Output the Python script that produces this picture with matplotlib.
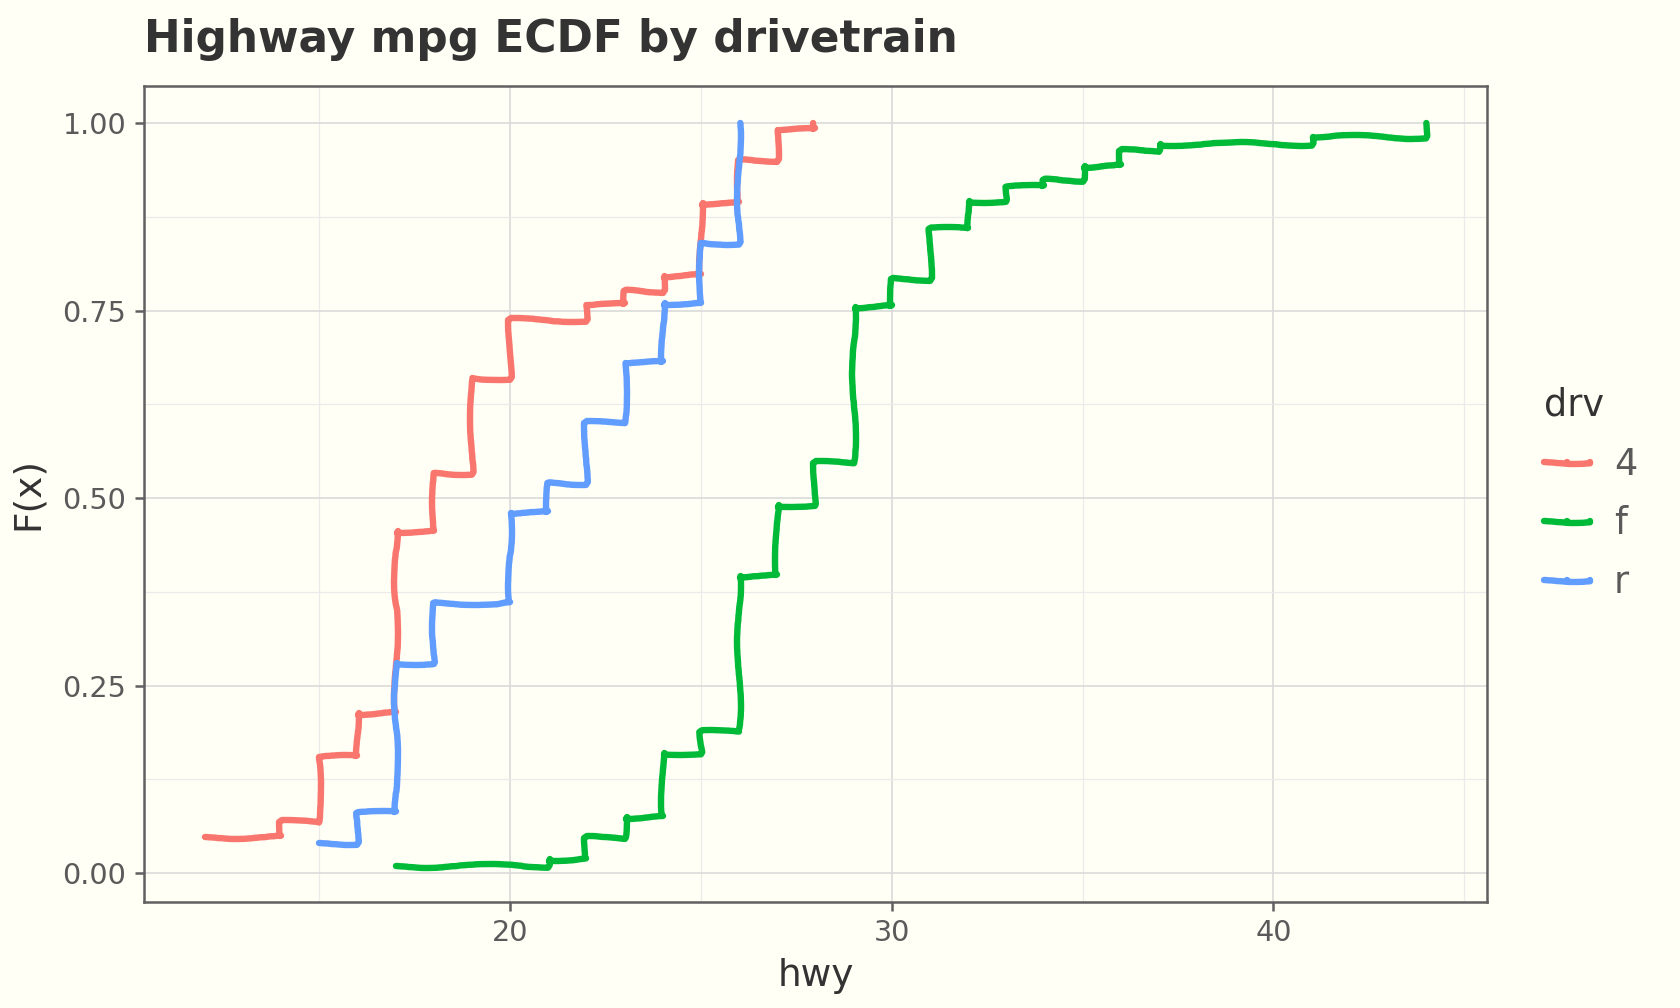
import matplotlib
matplotlib.use("Agg")
import matplotlib.pyplot as plt
from matplotlib.ticker import MultipleLocator

# ECDF steps (hwy value, cumulative count)
drv_labels = ["4", "f", "r"]
colors = ["#F8766D", "#00BA38", "#619CFF"]

hwy_4 = [12, 14, 15, 16, 17, 18, 19, 20, 22, 23, 24, 25, 26, 27, 28]
cum_4 = [5, 7, 16, 22, 47, 55, 68, 76, 78, 80, 82, 92, 98, 102, 103]

hwy_f = [17, 21, 22, 23, 24, 25, 26, 27, 28, 29, 30, 31, 32, 33, 34, 35, 36, 37, 41, 44]
cum_f = [1, 2, 5, 8, 17, 20, 42, 52, 58, 80, 84, 91, 95, 97, 98, 100, 102, 103, 104, 106]

hwy_r = [15, 16, 17, 18, 20, 21, 22, 23, 24, 25, 26]
cum_r = [1, 2, 7, 9, 12, 13, 15, 17, 19, 21, 25]

series = [(hwy_4, cum_4), (hwy_f, cum_f), (hwy_r, cum_r)]

bg = "#FFFFF5"
fig = plt.figure(figsize=(8.4, 5.04), dpi=200, facecolor=bg)
ax = fig.add_axes([0.0855, 0.105, 0.8852 - 0.0855, 0.915 - 0.105])
ax.set_facecolor(bg)

for (xs, cs), lab, col in zip(series, drv_labels, colors):
    ys = [c / cs[-1] for c in cs]
    ln, = ax.step(xs, ys, where="post", color=col, lw=2.3, label=lab,
                  solid_joinstyle="round", solid_capstyle="round")
    # hand-drawn wobble like the reference rendering
    ln.set_sketch_params(scale=2.0, length=170, randomness=4)

ax.set_xlim(10.4, 45.6)
ax.set_ylim(-0.0386, 1.05)

ax.xaxis.set_major_locator(MultipleLocator(10))
ax.xaxis.set_minor_locator(MultipleLocator(5))
ax.yaxis.set_major_locator(MultipleLocator(0.25))
ax.yaxis.set_minor_locator(MultipleLocator(0.125))
ax.yaxis.set_major_formatter(lambda v, p: f"{v:.2f}")

ax.grid(which="major", color="#DADADA", lw=0.6)
ax.grid(which="minor", color="#EBEBEB", lw=0.45)
ax.set_axisbelow(True)

for s in ax.spines.values():
    s.set_color("#606060")
    s.set_linewidth(0.9)

ax.tick_params(which="major", length=3.2, width=0.9, color="#606060",
               labelsize=10.3, labelcolor="#5A5A5A", pad=3)
ax.tick_params(which="minor", length=0)

ax.set_xlabel("hwy", fontsize=13.5, color="#333333", labelpad=4)
ax.set_ylabel("F(x)", fontsize=13.5, color="#333333", labelpad=6)
ax.set_title("Highway mpg ECDF by drivetrain", loc="left", fontsize=15.8,
             fontweight="bold", color="#333333", pad=12)

leg = ax.legend(title="drv", loc="center left", bbox_to_anchor=(1.018, 0.5),
                frameon=False, fontsize=13.2, title_fontsize=13.2,
                handlelength=1.25, handletextpad=0.65, labelspacing=0.6,
                alignment="left")
leg.get_title().set_color("#333333")
for t in leg.get_texts():
    t.set_color("#5A5A5A")

fig.savefig("out.png", dpi=200, facecolor=bg)
